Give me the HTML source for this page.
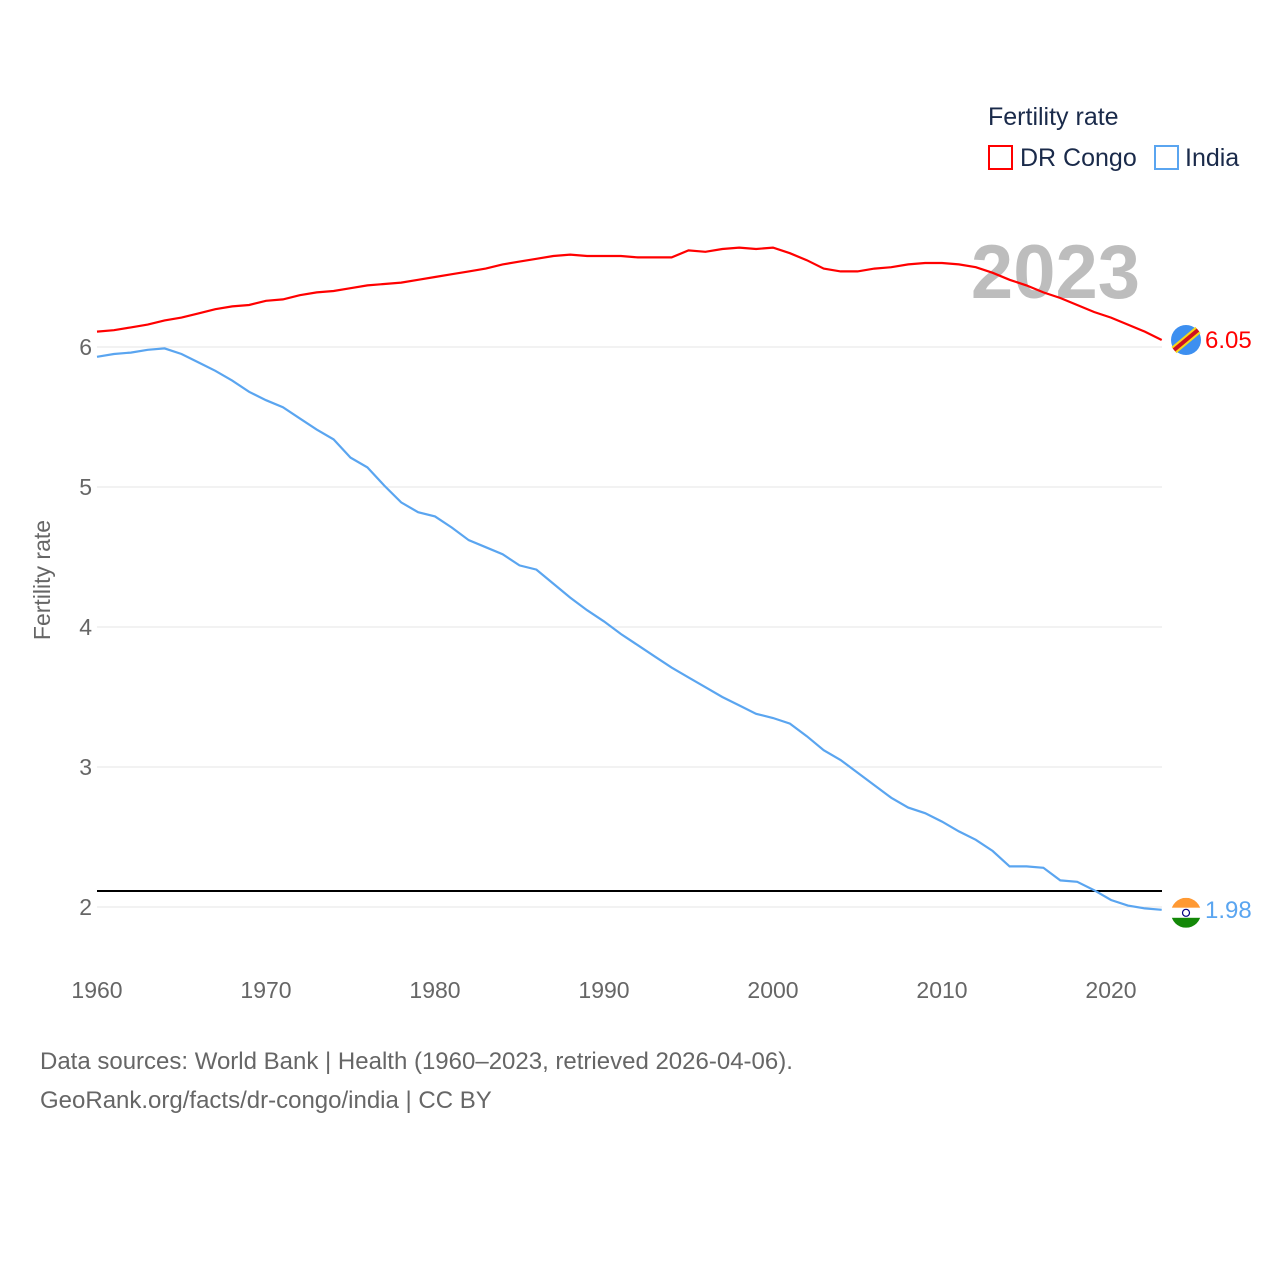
<!DOCTYPE html>
<html><head><meta charset="utf-8"><style>
html,body{margin:0;padding:0;background:#fff;}
body{width:1280px;height:1280px;overflow:hidden;font-family:"Liberation Sans",sans-serif;}
</style></head><body>
<svg id="chart" width="1280" height="1280" xmlns="http://www.w3.org/2000/svg">
<g id="grid"></g>
<g id="yticks"></g>
<g id="xticks"></g>
<text x="50" y="580" transform="rotate(-90 50 580)" text-anchor="middle" font-size="23" fill="#666">Fertility rate</text>
<text x="1140" y="298" text-anchor="end" font-size="76" font-weight="bold" fill="#bdbdbd">2023</text>
<line id="refline" x1="97" x2="1162" stroke="#000" stroke-width="2"/>
<g id="series"></g>
<g>
<text x="988" y="125" font-size="25" fill="#1a2a4a">Fertility rate</text>
<g><rect x="989" y="146" width="23" height="23" fill="none" stroke="#f00" stroke-width="2"/><text x="1020" y="166" font-size="25" fill="#1a2a4a">DR Congo</text></g>
<g><rect x="1155" y="146" width="23" height="23" fill="none" stroke="#5aa5f0" stroke-width="2"/><text x="1185" y="166" font-size="25" fill="#1a2a4a">India</text></g>
</g>
<g id="endlabels"></g>
<text x="40" y="1069" font-size="24" fill="#666">Data sources: World Bank | Health (1960–2023, retrieved 2026-04-06).</text>
<text x="40" y="1108" font-size="24" fill="#666">GeoRank.org/facts/dr-congo/india | CC BY</text>
</svg>
<script>
const years=[];for(let y=1960;y<=2023;y++)years.push(y);
const congo=[6.11,6.12,6.14,6.16,6.19,6.21,6.24,6.27,6.29,6.30,6.33,6.34,6.37,6.39,6.40,6.42,6.44,6.45,6.46,6.48,6.50,6.52,6.54,6.56,6.59,6.61,6.63,6.65,6.66,6.65,6.65,6.65,6.64,6.64,6.64,6.69,6.68,6.70,6.71,6.70,6.71,6.67,6.62,6.56,6.54,6.54,6.56,6.57,6.59,6.60,6.60,6.59,6.57,6.53,6.48,6.44,6.39,6.35,6.30,6.25,6.21,6.16,6.11,6.05];
const india=[5.93,5.95,5.96,5.98,5.99,5.95,5.89,5.83,5.76,5.68,5.62,5.57,5.49,5.41,5.34,5.21,5.14,5.01,4.89,4.82,4.79,4.71,4.62,4.57,4.52,4.44,4.41,4.31,4.21,4.12,4.04,3.95,3.87,3.79,3.71,3.64,3.57,3.50,3.44,3.38,3.35,3.31,3.22,3.12,3.05,2.96,2.87,2.78,2.71,2.67,2.61,2.54,2.48,2.40,2.29,2.29,2.28,2.19,2.18,2.12,2.05,2.01,1.99,1.98];
const yTicks=[2,3,4,5,6];
const xTicks=[1960,1970,1980,1990,2000,2010,2020];
const replacement=2.1;
const NS="http://www.w3.org/2000/svg";
const X=y=>97+(y-1960)*16.9;
const Y=v=>907-(v-2)*140;
function mk(t,a,p){const e=document.createElementNS(NS,t);for(const k in a)e.setAttribute(k,a[k]);p.appendChild(e);return e;}
const grid=document.getElementById('grid'),yt=document.getElementById('yticks'),xt=document.getElementById('xticks');
yTicks.forEach(v=>{
 const l=mk('line',{x1:97,x2:1162,y1:Y(v),y2:Y(v),stroke:'#e6e6e6','stroke-width':1},grid);
 
 
 const t=mk('text',{x:92,y:Y(v)+8,'text-anchor':'end','font-size':23,fill:'#666'},yt);t.textContent=v;
 
 
});
xTicks.forEach(v=>{
 const t=mk('text',{x:X(v),y:998,'text-anchor':'middle','font-size':23,fill:'#666'},xt);t.textContent=v;
 
 
});
const rl=document.getElementById('refline');rl.setAttribute('y1',Y(replacement)-2);rl.setAttribute('y2',Y(replacement)-2);
const s=document.getElementById('series');
function line(d,c,n){const p=mk('path',{d:d.map((v,i)=>(i?'L':'M')+X(years[i]).toFixed(1)+','+Y(v).toFixed(1)).join(''),fill:'none',stroke:c,'stroke-width':2.2},s);
 
 }
line(congo,'#ff0000','line-dr-congo');line(india,'#5aa5f0','line-india');
const el=document.getElementById('endlabels');
const cy=Y(congo[congo.length-1]),iy=Y(india[india.length-1]);
const g1=mk('g',{},el);


mk('circle',{cx:1186,cy:cy,r:15,fill:'#3d8ff0'},g1);
mk('line',{x1:1174,y1:cy+10,x2:1198,y2:cy-10,stroke:'#f7d618','stroke-width':8},g1);
mk('line',{x1:1174,y1:cy+10,x2:1198,y2:cy-10,stroke:'#ce1021','stroke-width':4},g1);
const t1=mk('text',{x:1205,y:cy+8,'font-size':24,fill:'#f00'},el);t1.textContent=congo[congo.length-1].toFixed(2);


const g2=mk('g',{},el);


mk('clipPath',{id:'cp'},g2);mk('circle',{cx:1186,cy:iy+3,r:15},document.getElementById('cp'));
mk('rect',{x:1171,y:iy-12,width:30,height:10,fill:'#ff9933','clip-path':'url(#cp)'},g2);
mk('rect',{x:1171,y:iy-2,width:30,height:10,fill:'#fff','clip-path':'url(#cp)'},g2);
mk('rect',{x:1171,y:iy+8,width:30,height:10,fill:'#138808','clip-path':'url(#cp)'},g2);
mk('circle',{cx:1186,cy:iy+3,r:3.5,fill:'none',stroke:'#000080','stroke-width':1.2},g2);
const t2=mk('text',{x:1205,y:iy+8,'font-size':24,fill:'#5aa5f0'},el);t2.textContent=india[india.length-1].toFixed(2);


</script>
</body></html>
